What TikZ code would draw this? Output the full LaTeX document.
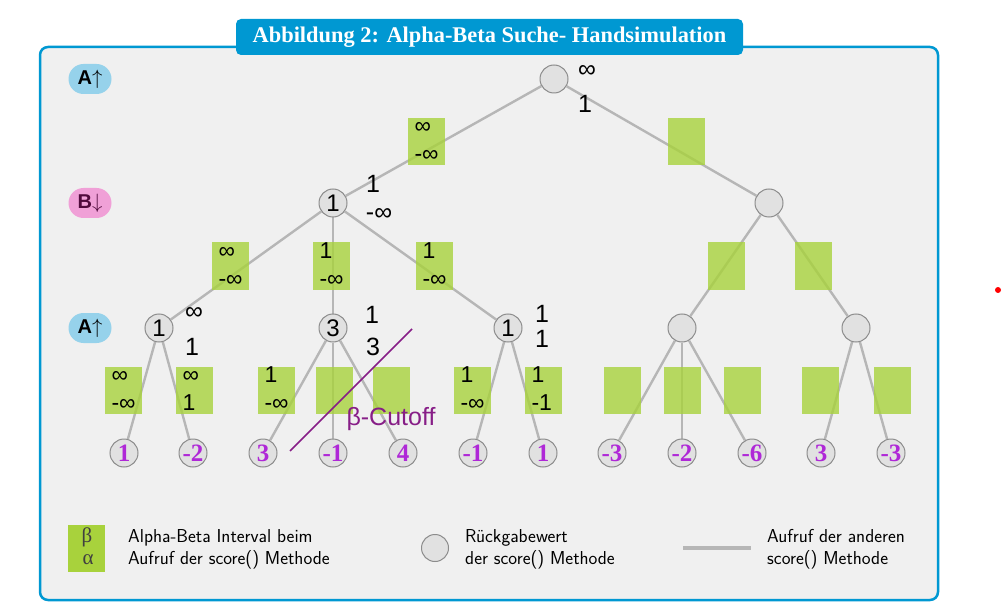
\documentclass[tikz,border=0pt]{standalone}
\usepackage{fontspec}
\setmainfont{Liberation Serif}
\newfontfamily\helv{Liberation Sans}
\usepackage{tikz}
\usetikzlibrary{calc,shapes.misc,positioning,backgrounds}

\definecolor{frameblue}{RGB}{0,152,210}
\definecolor{panelgray}{RGB}{240,240,240}
\definecolor{abgreen}{RGB}{168,210,60}
\definecolor{edgegray}{RGB}{182,182,182}
\definecolor{nodegray}{RGB}{225,225,225}
\definecolor{leafpurple}{RGB}{175,40,215}
\definecolor{cutpurple}{RGB}{135,30,135}
\definecolor{pillblue}{RGB}{150,210,235}
\definecolor{pillpink}{RGB}{240,160,215}
\definecolor{pilltext}{RGB}{80,10,60}

\pgfdeclarelayer{back}
\pgfsetlayers{back,background,main}

\begin{document}
\begin{tikzpicture}[x=1pt,y=-1pt]

\tikzset{
  valnode/.style={circle, draw=black!45, fill=nodegray, line width=1pt,
                  minimum size=28pt, inner sep=0pt,
                  font=\helv\fontsize{24}{24}\selectfont},
  leaf/.style={valnode, text=leafpurple, font=\bfseries\fontsize{25}{25}\selectfont},
  abbox/.style={rectangle, fill=abgreen, fill opacity=0.8,
                minimum width=37pt, minimum height=47pt, inner sep=0pt},
  abtext/.style={anchor=base west, inner sep=0pt, font=\helv\fontsize{23}{23}\selectfont},
  sidelabel/.style={anchor=base, inner sep=0pt, font=\helv\fontsize{25}{25}\selectfont},
  call/.style={edgegray, line width=2.4pt},
  pill/.style={rounded rectangle, minimum width=43pt, minimum height=30pt, inner sep=0pt,
               font=\helv\bfseries\fontsize{20}{20}\selectfont},
  legendtext/.style={anchor=north west, align=left, inner sep=0pt,
                     font=\sffamily\fontsize{18.7}{22}\selectfont}
}

% interval box: name, x, y, beta, alpha
\newcommand{\abbox}[5]{
  \node[abbox] (#1) at (#2,#3) {};
  \node[abtext] (#1-t) at ([xshift=7pt,yshift=-16pt]#1.north west) {#4};
  \node[abtext] (#1-b) at ([xshift=7pt,yshift=-44pt]#1.north west) {#5};
}

\useasboundingbox (0,0) rectangle (1003,612);

% Panel and title
\begin{pgfonlayer}{back}
  \fill[white] (0,0) rectangle (1003,612);
  \draw[frameblue, line width=2.5pt, fill=panelgray, rounded corners=8pt] (40,47) rectangle (938,600);
\end{pgfonlayer}
\node[fill=frameblue, rounded corners=5pt, minimum width=507pt, minimum height=36pt,
      inner sep=0pt, text=white, font=\bfseries\fontsize{22.4}{22.4}\selectfont]
      (title) at (489.5,37) {Abbildung 2: Alpha-Beta Suche- Handsimulation};

% Level markers
\node[pill, fill=pillblue] (lvl-a1) at (90,79) {A$\uparrow$};
\node[pill, fill=pillpink, text=pilltext] (lvl-b) at (90,203) {B$\downarrow$};
\node[pill, fill=pillblue] (lvl-a2) at (90,328) {A$\uparrow$};

% Tree
\node[valnode] (root) at (554,79) {};
\node[valnode] (b1) at (333,203) {1};
\node[valnode] (b2) at (769,203) {};
\node[valnode] (a1) at (159,328) {1};
\node[valnode] (a2) at (333,328) {3};
\node[valnode] (a3) at (508,328) {1};
\node[valnode] (a4) at (682,328) {};
\node[valnode] (a5) at (856,328) {};
\foreach \x/\v [count=\i] in {124/1,193/-2,263/3,333/-1,403/4,473/-1,543/1,612/-3,682/-2,752/-6,821/3,891/-3}
  \node[leaf] (l\i) at (\x,453) {\v};

% Calls
\begin{scope}[on background layer]
  \foreach \p/\c in {root/b1,root/b2,b1/a1,b1/a2,b1/a3,b2/a4,b2/a5,
                     a1/l1,a1/l2,a2/l3,a2/l4,a2/l5,a3/l6,a3/l7,
                     a4/l8,a4/l9,a4/l10,a5/l11,a5/l12}
    \draw[call] (\p) -- (\c);
\end{scope}

% Intervals, level 1
\abbox{i1}{426}{141.5}{∞}{-∞}
\abbox{i2}{686}{141.5}{}{}
% Intervals, level 2
\abbox{i11}{230}{266}{∞}{-∞}
\abbox{i12}{331}{266}{1}{-∞}
\abbox{i13}{434}{266}{1}{-∞}
\abbox{i21}{726}{266}{}{}
\abbox{i22}{813}{266}{}{}
% Intervals, level 3
\abbox{j1}{123}{390.5}{∞}{-∞}
\abbox{j2}{194}{390.5}{∞}{1}
\abbox{j3}{276}{390.5}{1}{-∞}
\abbox{j4}{334}{390.5}{}{}
\abbox{j5}{391}{390.5}{}{}
\abbox{j6}{472}{390.5}{1}{-∞}
\abbox{j7}{543}{390.5}{1}{-1}
\abbox{j8}{622}{390.5}{}{}
\abbox{j9}{682}{390.5}{}{}
\abbox{j10}{742}{390.5}{}{}
\abbox{j11}{820}{390.5}{}{}
\abbox{j12}{892}{390.5}{}{}

% Returned values
\node[sidelabel] (root-b) at (587,78) {∞};
\node[sidelabel] (root-a) at (585,113) {1};
\node[sidelabel] (b1-b) at (373,193) {1};
\node[sidelabel] (b1-a) at (379,221) {-∞};
\node[sidelabel] (a1-b) at (194,319) {∞};
\node[sidelabel] (a1-a) at (192,355) {1};
\node[sidelabel] (a2-b) at (372,323) {1};
\node[sidelabel] (a2-a) at (373,355) {3};
\node[sidelabel] (a3-b) at (542,322) {1};
\node[sidelabel] (a3-a) at (542,347) {1};

% Cutoff
\coordinate (cut-s) at (290,451);
\coordinate (cut-e) at (412,329);
\draw[cutpurple, line width=1.6pt] (cut-s) -- (cut-e);
\node[anchor=base, inner sep=0pt, text=cutpurple, font=\helv\fontsize{25}{25}\selectfont]
      (cutoff) at (391,425) {β-Cutoff};

% Legend
\node[abbox, fill opacity=1] (lg-box) at (86.5,548.5) {};
\node[inner sep=0pt, text=black!75, font=\fontsize{21}{21}\selectfont] (lg-beta) at (87,537) {β};
\node[inner sep=0pt, text=black!75, font=\fontsize{21}{21}\selectfont] (lg-alpha) at (88,560) {α};
\node[legendtext] (lg-t1) at (128,529) {Alpha-Beta Interval beim\\Aufruf der score() Methode};
\node[valnode, minimum size=27pt] (lg-circle) at (435,548) {};
\node[legendtext] (lg-t2) at (465,529) {Rückgabewert\\der score() Methode};
\coordinate (lg-l1) at (683,548);
\coordinate (lg-l2) at (751,548);
\draw[call, line width=4pt] (lg-l1) -- (lg-l2);
\node[legendtext] (lg-t3) at (767,529) {Aufruf der anderen\\score() Methode};

% stray mark
\fill[red] (998,290) circle (3pt);

\end{tikzpicture}
\end{document}
